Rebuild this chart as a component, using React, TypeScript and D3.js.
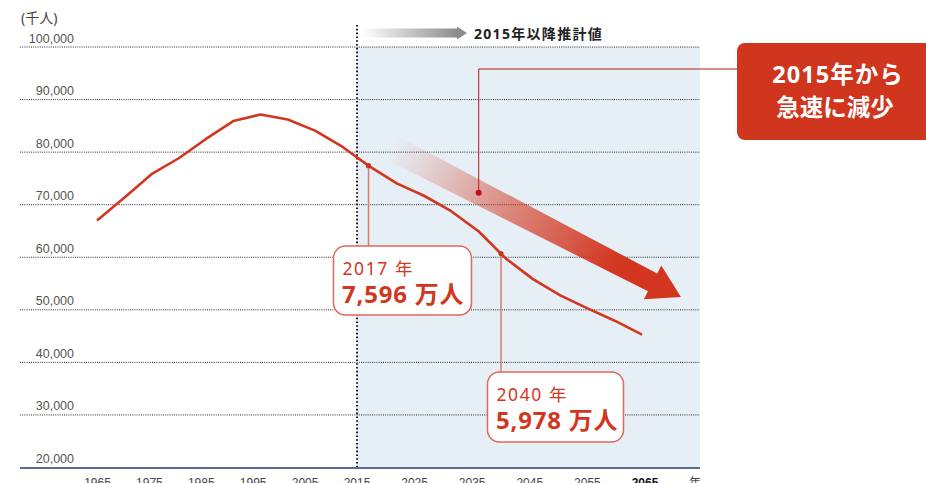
import { useEffect, useRef } from 'react';
import * as d3 from 'd3';

// 生産年齢人口（千人）
const years = [1965, 1970, 1975, 1980, 1985, 1990, 1995, 2000, 2005, 2010, 2015,
  2020, 2025, 2030, 2035, 2040, 2045, 2050, 2055, 2060, 2065];
const workingAge = [67000, 71300, 75807, 78835, 82506, 85904, 87165, 86220, 84092, 81032, 77282,
  74058, 71701, 68754, 64942, 59777, 55845, 52750, 50276, 47928, 45291];

const yTicks = [20000, 30000, 40000, 50000, 60000, 70000, 80000, 90000, 100000];
const xTicks = [1965, 1975, 1985, 1995, 2005, 2015, 2025, 2035, 2045, 2055, 2065];

const callouts = [
  { year: 2017, label: '2017 年', value: '7,596 万人' },
  { year: 2040, label: '2040 年', value: '5,978 万人' },
];

const W = 926;
const H = 483;
const RED = '#d2361f';
const JP = '"Noto Sans", "Noto Sans CJK JP", sans-serif';
const LAT = '"Liberation Sans", Arial, sans-serif';

const App = () => {
  const svgRef = useRef<SVGSVGElement>(null);

  useEffect(() => {
    if (!svgRef.current) return;
    const svg = d3.select(svgRef.current);
    svg.selectAll('*').remove();

    const left = 20, right = 700;
    // line is drawn on an even year scale, tick labels sit on the designer's split scale
    const x = d3.scaleLinear().domain([1965, 2065]).range([97, 642]);
    const xt = d3.scaleLinear().domain([1965, 2015, 2065]).range([97.5, 357, 645]);
    const y = d3.scaleLinear().domain([20000, 100000]).range([467.5, 47]);

    const defs = svg.append('defs');
    const grey = defs.append('linearGradient').attr('id', 'grey-arrow');
    grey.append('stop').attr('offset', '0%').attr('stop-color', '#ffffff');
    grey.append('stop').attr('offset', '100%').attr('stop-color', '#8c8c8c');

    // projection zone
    svg.append('rect')
      .attr('x', xt(2015)).attr('y', y(100000))
      .attr('width', right - xt(2015)).attr('height', y(20000) - y(100000))
      .attr('fill', '#e6eff5');

    // grid
    const grid = svg.append('g');
    grid.selectAll('line')
      .data(yTicks.filter(d => d > 20000))
      .enter().append('line')
      .attr('x1', left).attr('x2', right)
      .attr('y1', d => y(d)).attr('y2', d => y(d))
      .attr('stroke', '#2a2a2a').attr('stroke-width', 1)
      .attr('stroke-dasharray', '1,1.2');

    grid.selectAll('text')
      .data(yTicks)
      .enter().append('text')
      .attr('x', 74).attr('y', d => y(d) - 4.5)
      .attr('text-anchor', 'end')
      .attr('font-family', LAT).attr('font-size', 12.5)
      .attr('fill', '#555')
      .text(d => d3.format(',')(d));

    svg.append('text')
      .attr('x', 21).attr('y', 23)
      .attr('font-family', JP).attr('font-size', 14).attr('fill', '#444')
      .text('(千人)');

    // x axis
    svg.append('line')
      .attr('x1', left).attr('x2', right)
      .attr('y1', 468).attr('y2', 468)
      .attr('stroke', '#5b6b96').attr('stroke-width', 2);

    svg.append('g').selectAll('text')
      .data(xTicks)
      .enter().append('text')
      .attr('x', d => xt(d)).attr('y', 487)
      .attr('text-anchor', 'middle')
      .attr('font-family', LAT).attr('font-size', 12)
      .attr('font-weight', d => (d === 2065 ? 700 : 400))
      .attr('fill', d => (d === 2065 ? '#111' : '#444'))
      .text(d => d);
    svg.append('text')
      .attr('x', 695).attr('y', 487).attr('text-anchor', 'middle')
      .attr('font-family', JP).attr('font-size', 12).attr('fill', '#444')
      .text('年');

    // 2015 divider
    svg.append('line')
      .attr('x1', xt(2015)).attr('x2', xt(2015))
      .attr('y1', 25).attr('y2', 467)
      .attr('stroke', '#1a1a1a').attr('stroke-width', 2)
      .attr('stroke-dasharray', '1.6,2.2');

    // 以降推計値 arrow
    svg.append('rect')
      .attr('x', 362).attr('y', 28.5).attr('width', 96).attr('height', 9)
      .attr('fill', 'url(#grey-arrow)');
    svg.append('path')
      .attr('d', 'M457,26.5 L467,33 L457,39.5 Z')
      .attr('fill', '#8c8c8c');
    svg.append('text')
      .attr('x', 474).attr('y', 38.5)
      .attr('font-family', JP).attr('font-size', 14).attr('font-weight', 700)
      .attr('fill', '#222').attr('letter-spacing', 1.3)
      .text('2015年以降推計値');

    // big trend arrow
    const sx = 392, sy = 148, tx = 681, ty = 297;
    const len = Math.hypot(tx - sx, ty - sy);
    const ang = Math.atan2(ty - sy, tx - sx) * 180 / Math.PI;
    const redGrad = defs.append('linearGradient')
      .attr('id', 'red-arrow')
      .attr('gradientUnits', 'userSpaceOnUse')
      .attr('x1', 0).attr('y1', 0).attr('x2', len).attr('y2', 0);
    [[0, 0], [0.1, 0.12], [0.4, 0.55], [0.78, 1], [1, 1]].forEach(([o, a]) => {
      redGrad.append('stop').attr('offset', o).attr('stop-color', RED).attr('stop-opacity', a);
    });
    const hl = 32, hw = 19;
    const arrow = svg.append('g').attr('transform', `translate(${sx},${sy}) rotate(${ang})`);
    arrow.append('path')
      .attr('d', `M0,-13 L${len - hl},-10 L${len - hl},${-hw} L${len},0 L${len - hl},${hw} L${len - hl},10 L0,13 Z`)
      .attr('fill', 'url(#red-arrow)');

    // leader to the red box
    const f = 0.3;
    const lx = sx + (tx - sx) * f, ly = sy + (ty - sy) * f;
    svg.append('path')
      .attr('d', `M${lx},${ly} V69 H737`)
      .attr('fill', 'none').attr('stroke', '#b41a1a').attr('stroke-width', 1);
    svg.append('circle').attr('cx', lx).attr('cy', ly).attr('r', 3).attr('fill', '#c0101a');

    svg.append('rect')
      .attr('x', 737).attr('y', 43).attr('width', 220).attr('height', 97).attr('rx', 8)
      .attr('fill', '#d0351e');
    svg.append('text')
      .attr('x', 838).attr('y', 83).attr('text-anchor', 'middle')
      .attr('font-family', JP).attr('font-size', 23.5).attr('font-weight', 700)
      .attr('fill', '#fff').attr('letter-spacing', 1)
      .text('2015年から');
    svg.append('text')
      .attr('x', 835).attr('y', 116).attr('text-anchor', 'middle')
      .attr('font-family', JP).attr('font-size', 23.5).attr('font-weight', 700)
      .attr('fill', '#fff')
      .text('急速に減少');

    // population line
    const pts: [number, number][] = years.map((yr, i) => [yr, workingAge[i]]);
    const line = d3.line<[number, number]>().x(d => x(d[0])).y(d => y(d[1]));
    svg.append('path')
      .datum(pts)
      .attr('d', line)
      .attr('fill', 'none').attr('stroke', RED).attr('stroke-width', 2.6)
      .attr('stroke-linejoin', 'round');

    // callouts: marker sits on the line under the tick-scale year position
    const valueAt = (yr: number) => {
      const i = d3.bisectLeft(years, yr);
      const t = (yr - years[i - 1]) / (years[i] - years[i - 1]);
      return workingAge[i - 1] + t * (workingAge[i] - workingAge[i - 1]);
    };
    const boxes = [
      { bx: 333.5, by: 246, bw: 138, bh: 69 },
      { bx: 487.5, by: 372, bw: 136, bh: 70 },
    ];
    callouts.forEach((c, i) => {
      const mx = xt(c.year);
      const my = y(valueAt(x.invert(mx)));
      const b = boxes[i];
      svg.append('line')
        .attr('x1', mx).attr('x2', mx).attr('y1', my).attr('y2', b.by)
        .attr('stroke', '#e07a6a').attr('stroke-width', 1.5);
      svg.append('circle').attr('cx', mx).attr('cy', my).attr('r', 2.6).attr('fill', '#c8351f');
      svg.append('rect')
        .attr('x', b.bx).attr('y', b.by).attr('width', b.bw).attr('height', b.bh).attr('rx', 12)
        .attr('fill', '#fff').attr('stroke', '#e0675a').attr('stroke-width', 1.5);
      svg.append('text')
        .attr('x', b.bx + 9).attr('y', b.by + 29)
        .attr('font-family', JP).attr('font-size', 17.5).attr('fill', RED)
        .attr('letter-spacing', 1.6)
        .text(c.label);
      svg.append('text')
        .attr('x', b.bx + 8.5).attr('y', b.by + 57)
        .attr('font-family', JP).attr('font-size', 24).attr('font-weight', 700).attr('fill', RED)
        .attr('letter-spacing', 0.8)
        .text(c.value);
    });
  }, []);

  return (
    <div>
      <style>{'body{margin:0;overflow:hidden}'}</style>
      <svg ref={svgRef} width={W} height={H} style={{ display: 'block' }} />
    </div>
  );
};

export default App;
